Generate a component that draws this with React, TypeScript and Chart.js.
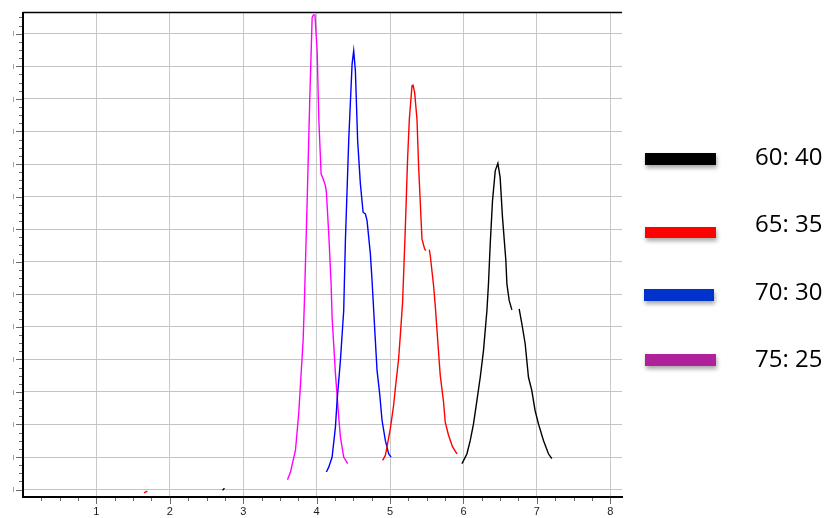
import React, { useEffect, useRef } from "react";
import { Chart, registerables } from "chart.js";

Chart.register(...registerables);

// ---- data ----
const seriesLabels = ["60: 40", "65: 35", "70: 30", "75: 25"];
const lineColors = ["#000000", "#ff0000", "#0000ff", "#ff00ff"];
const legendColors = ["#000000", "#ff0000", "#0033cc", "#b0209a"];

const xTickValues = [1, 2, 3, 4, 5, 6, 7, 8];
const yTickValues = [0, 1, 2, 3, 4, 5, 6, 7, 8, 9, 10, 11, 12, 13, 14];
const yTickLabel = "|";

const blackX = [2.718, 2.745, 2.75, 5.98, 6.048, 6.093, 6.137, 6.184, 6.229, 6.273, 6.32, 6.341, 6.365, 6.396, 6.433, 6.469, 6.5, 6.532, 6.578, 6.592, 6.623, 6.66, 6.71, 6.759, 6.796, 6.841, 6.886, 6.931, 6.976, 7.022, 7.09, 7.158, 7.204];
const blackY = [-0.02, 0.04, null, 0.8, 1.1, 1.51, 2.02, 2.74, 3.45, 4.27, 5.5, 6.32, 7.55, 8.87, 9.79, 10.02, 9.59, 8.36, 7.03, 6.32, 5.81, 5.52, null, 5.55, 5.09, 4.48, 3.45, 3.05, 2.43, 2.02, 1.51, 1.1, 0.95];

const redX = [1.648, 1.694, 1.7, 4.899, 4.936, 4.959, 5.004, 5.049, 5.072, 5.117, 5.14, 5.171, 5.208, 5.239, 5.263, 5.299, 5.313, 5.335, 5.367, 5.389, 5.416, 5.435, 5.471, 5.49, 5.51, 5.535, 5.548, 5.593, 5.616, 5.661, 5.684, 5.729, 5.752, 5.797, 5.852, 5.912];
const redY = [-0.1, -0.05, null, 0.9, 1.05, 1.31, 1.87, 2.59, 3.1, 4.02, 4.73, 5.75, 8.01, 10.15, 11.38, 12.4, 12.42, 12.2, 11.38, 9.95, 8.62, 7.7, 7.39, 7.34, null, 7.37, 7.19, 6.27, 5.65, 4.22, 3.51, 2.69, 2.07, 1.67, 1.31, 1.1];

const blueX = [4.133, 4.165, 4.211, 4.256, 4.279, 4.324, 4.369, 4.392, 4.437, 4.483, 4.505, 4.528, 4.559, 4.596, 4.633, 4.664, 4.687, 4.732, 4.755, 4.8, 4.823, 4.859, 4.891, 4.936, 4.981, 5.014];
const blueY = [0.54, 0.69, 1.0, 1.92, 2.74, 3.97, 5.5, 7.65, 10.71, 13.07, 13.48, 12.86, 10.71, 9.39, 8.52, 8.47, 8.26, 7.24, 6.42, 4.58, 3.66, 2.94, 2.13, 1.51, 1.1, 1.0];

const magentaX = [3.603, 3.644, 3.712, 3.756, 3.816, 3.834, 3.871, 3.906, 3.939, 3.956, 3.977, 4.007, 4.029, 4.061, 4.088, 4.12, 4.133, 4.165, 4.197, 4.211, 4.256, 4.301, 4.324, 4.369, 4.423];
const magentaY = [0.3, 0.54, 1.21, 2.34, 4.58, 5.81, 8.87, 11.94, 14.5, 14.58, 14.58, 13.48, 11.43, 9.7, 9.55, 9.33, 9.13, 7.86, 6.33, 5.29, 3.57, 2.23, 1.61, 1.0, 0.8];

const xRange = [0, 8.16];
const yRange = [-0.227, 14.65];

const seriesX = [blackX, redX, blueX, magentaX];
const seriesY = [blackY, redY, blueY, magentaY];

const decorPlugin = {
  id: "decor",
  afterDraw(chart: any) {
    const { ctx, chartArea } = chart;
    const xs = chart.scales.x;
    const ys = chart.scales.y;
    ctx.save();
    // top border
    ctx.strokeStyle = "#000";
    ctx.lineWidth = 1.5;
    ctx.beginPath();
    ctx.moveTo(chartArea.left, chartArea.top);
    ctx.lineTo(chartArea.right, chartArea.top);
    ctx.stroke();
    // minor / major tick marks
    ctx.strokeStyle = "#6a6a6a";
    ctx.lineWidth = 1;
    for (let i = 0; i * 0.25 <= ys.max; i++) {
      const v = i * 0.25;
      if (v < ys.min) continue;
      const py = Math.round(ys.getPixelForValue(v)) + 0.5;
      const len = i % 4 === 0 ? 6 : 3;
      ctx.beginPath();
      ctx.moveTo(chartArea.left - 1 - len, py);
      ctx.lineTo(chartArea.left - 1, py);
      ctx.stroke();
    }
    for (let i = 1; i * 0.25 <= xs.max; i++) {
      const v = i * 0.25;
      const px = Math.round(xs.getPixelForValue(v)) + 0.5;
      const len = i % 4 === 0 ? 6 : 3;
      ctx.beginPath();
      ctx.moveTo(px, chartArea.bottom + 1);
      ctx.lineTo(px, chartArea.bottom + 1 + len);
      ctx.stroke();
    }
    // legend
    const bars = [
      [645, 153, 71, 12],
      [645, 227, 71, 11],
      [644, 289, 70, 12],
      [645, 354, 71, 12],
    ];
    const textY = [158, 225, 293, 360];
    chart.data.datasets.forEach((ds: any, i: number) => {
      const [bx, by, bw, bh] = bars[i];
      ctx.save();
      ctx.shadowColor = "rgba(0,0,0,0.35)";
      ctx.shadowBlur = 4;
      ctx.shadowOffsetX = 1;
      ctx.shadowOffsetY = 3;
      ctx.fillStyle = legendColors[i];
      ctx.fillRect(bx, by, bw, bh);
      ctx.restore();
      ctx.fillStyle = "#000";
      ctx.font = "24px 'Open Sans'";
      ctx.textBaseline = "middle";
      ctx.textAlign = "left";
      ctx.fillText(ds.label, 755, textY[i]);
    });
    ctx.restore();
  },
};

export default function App() {
  const ref = useRef<HTMLCanvasElement>(null);
  useEffect(() => {
    if (!ref.current) return;
    const datasets = seriesLabels.map((label, i) => ({
      label,
      data: seriesX[i].map((x, j) => ({ x, y: seriesY[i][j] })),
      borderColor: lineColors[i],
      backgroundColor: lineColors[i],
      borderWidth: 1.4,
      pointRadius: 0,
      tension: 0,
      spanGaps: false,
      fill: false,
    }));
    const chart = new Chart(ref.current, {
      type: "line",
      data: { datasets },
      options: {
        animation: false,
        responsive: false,
        layout: { padding: { top: 12, right: 210, left: 0, bottom: 0 } },
        plugins: { legend: { display: false }, tooltip: { enabled: false } },
        scales: {
          x: {
            type: "linear",
            min: xRange[0],
            max: xRange[1],
            afterBuildTicks: (s: any) => {
              s.ticks = xTickValues.map((v) => ({ value: v }));
            },
            afterFit: (s: any) => {
              s.height = 21;
            },
            grid: { color: "#c8c8c8", lineWidth: 1, drawTicks: false },
            border: { color: "#000", width: 2 },
            ticks: {
              padding: 8,
              color: "#1a1a1a",
              font: { family: "'Liberation Sans', Arial", size: 11 },
              callback: (v: any) => String(v),
            },
          },
          y: {
            type: "linear",
            min: yRange[0],
            max: yRange[1],
            afterBuildTicks: (s: any) => {
              s.ticks = yTickValues.map((v) => ({ value: v }));
            },
            afterFit: (s: any) => {
              s.width = 23;
            },
            grid: { color: "#c4c4c4", lineWidth: 1, drawTicks: false, borderDash: [2, 1] } as any,
            border: { color: "#000", width: 2 },
            ticks: {
              padding: 9,
              color: "#444",
              font: { family: "'Liberation Sans', Arial", size: 6 },
              callback: () => yTickLabel,
            },
          },
        },
      },
      plugins: [decorPlugin],
    });
    return () => chart.destroy();
  }, []);
  return (
    <div style={{ position: "fixed", left: 0, top: 0, width: 832, height: 518, background: "#fff" }}>
      <canvas ref={ref} width={832} height={518} />
    </div>
  );
}
